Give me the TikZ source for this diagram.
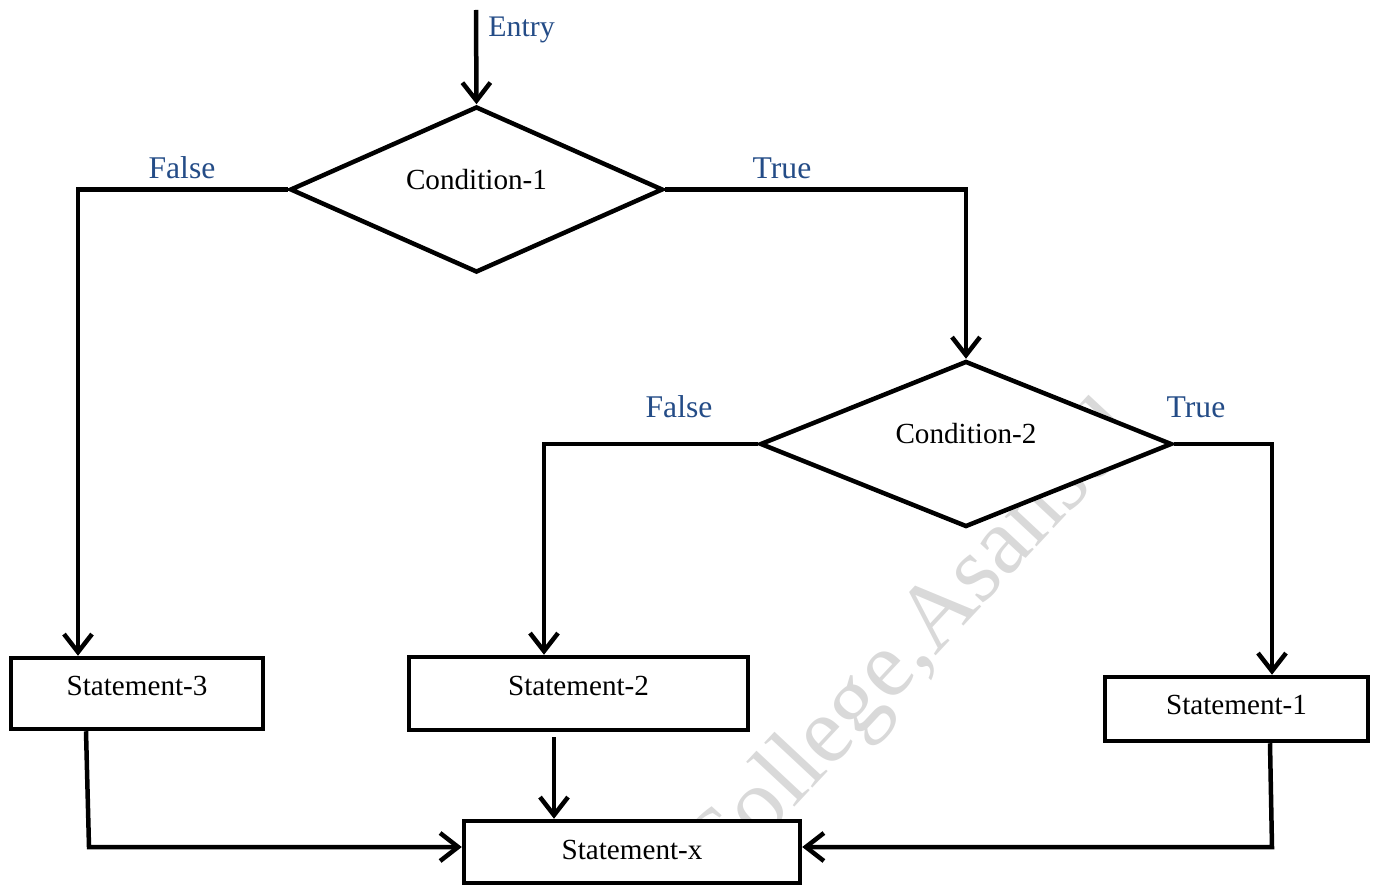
\documentclass[tikz,border=0pt]{standalone}
\usepackage{fontspec}
\setmainfont{Liberation Serif}
\usetikzlibrary{shapes.geometric,arrows.meta,calc}
\definecolor{lblue}{RGB}{36,76,135}
\begin{document}
\begin{tikzpicture}[x=0.02cm,y=-0.02cm,
  flow/.style={line width=0.09cm, draw=black, -{Straight Barb[length=0.36cm,width=0.56cm]}},
  stmt/.style={draw, line width=0.09cm, fill=white, rectangle, inner sep=0pt,
    font=\fontsize{16.6}{19}\selectfont},
  cond/.style={draw, line width=0.09cm, fill=white, diamond, inner sep=0pt,
    text height=0.25cm, text depth=0.25cm, font=\fontsize{16.6}{19}\selectfont},
  lbl/.style={text=lblue, font=\fontsize{18}{20}\selectfont, inner sep=0pt, anchor=base},
  wm/.style={text=gray!30, font=\fontsize{54}{60}\selectfont, rotate=47, inner sep=0pt}
]
\useasboundingbox (0,0) rectangle (1377,888);
\clip (0,0) rectangle (1377,888);

% background watermark
\node[wm] (wmark) at (914,646) {College,Asansol};

% decisions
\node[cond, minimum width=7.46cm, minimum height=3.3cm] (c1) at (476.5,189.5) {Condition-1};
\node[cond, minimum width=8.24cm, minimum height=3.24cm] (c2) at (966,444) {Condition-2};

% statements
\node[stmt, minimum width=5.04cm, text height=0.74cm, text depth=0.68cm] (s3) at (137,693.5) {Statement-3};
\node[stmt, minimum width=6.78cm, text height=0.76cm, text depth=0.70cm] (s2) at (578.5,693.5) {Statement-2};
\node[stmt, minimum width=5.26cm, text height=0.76cm, text depth=0.52cm] (s1) at (1236.5,709) {Statement-1};
\node[stmt, minimum width=6.72cm, text height=0.78cm, text depth=0.46cm] (sx) at (632,852) {Statement-x};

% branch labels
\node[lbl, font=\fontsize{17}{19}\selectfont] (lentry) at (521.5,37) {Entry};
\node[lbl] (lf1) at (182,179) {False};
\node[lbl] (lt1) at (782,179) {True};
\node[lbl] (lf2) at (679,418) {False};
\node[lbl] (lt2) at (1196,418) {True};

% connectors
\coordinate (entry) at (476,10);
\draw[flow] (entry) -- (c1.north);

\coordinate (f1) at (78,189.5);
\draw[flow] (c1.west) -- (f1) -- (f1 |- s3.north);
\draw[flow] (c1.east) -| (c2.north);

\coordinate (f2) at (544,444);
\draw[flow] (c2.west) -- (f2) -- (f2 |- s2.north);
\coordinate (t2) at (1272,444);
\draw[flow] (c2.east) -- (t2) -- (t2 |- s1.north);

\coordinate (j3) at (89,847);
\draw[flow] ([xshift=-0.06cm]s3.south -| j3) -- (j3) -- (j3 -| sx.west);
\coordinate (j2) at (554,737);
\draw[flow] (j2) -- (j2 |- sx.north);
\coordinate (j1) at (1272,847);
\draw[flow] ([xshift=-0.04cm]s1.south -| j1) -- (j1) -- (j1 -| sx.east);
\end{tikzpicture}
\end{document}
